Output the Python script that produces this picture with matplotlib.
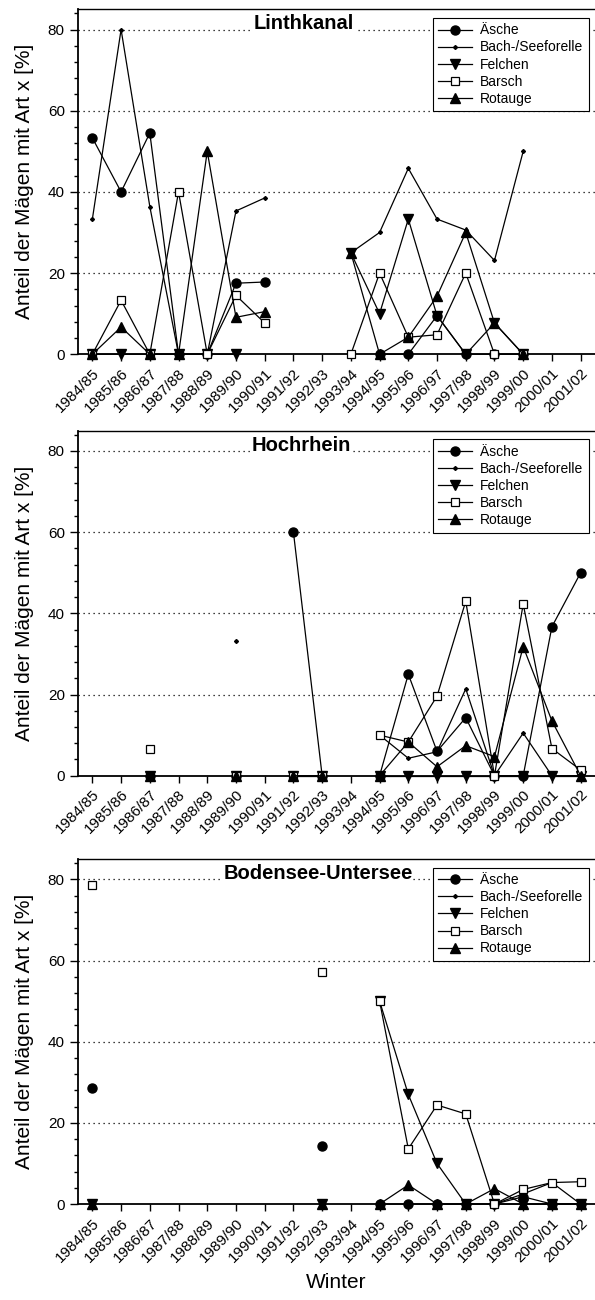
import numpy as np
import matplotlib

matplotlib.use("Agg")
import matplotlib.pyplot as plt  # noqa: E402
from matplotlib.ticker import MultipleLocator  # noqa: E402

plt.rcParams["font.family"] = ["Liberation Sans", "DejaVu Sans"]

n = np.nan
winter = ["1984/85", "1985/86", "1986/87", "1987/88", "1988/89", "1989/90",
          "1990/91", "1991/92", "1992/93", "1993/94", "1994/95", "1995/96",
          "1996/97", "1997/98", "1998/99", "1999/00", "2000/01", "2001/02"]
arten = ["Äsche", "Bach-/Seeforelle", "Felchen", "Barsch", "Rotauge"]

# Linthkanal
linth_aesche = [53.3, 40.0, 54.5, 0, 0, 17.5, 17.8, n, n, n, 0, 0, 9.5, 0, 0, 0, n, n]
linth_bach = [33.3, 80.0, 36.4, 0, 0, 35.3, 38.5, n, n, 25.0, 30.0, 45.8, 33.3, 30.6, 23.1, 50.0, n, n]
linth_felchen = [0, 0, 0, 0, 0, 0, n, n, n, 25.0, 10.0, 33.3, 9.5, 0, 7.7, 0, n, n]
linth_barsch = [0, 13.3, 0, 40.0, 0, 14.5, 7.7, n, n, 0, 20.0, 4.2, 4.8, 20.0, 0, 0, n, n]
linth_rotauge = [0, 6.7, 0, 0, 50.0, 9.1, 10.5, n, n, 25.0, 0, 4.2, 14.3, 30.0, 7.7, 0, n, n]

# Hochrhein
hoch_aesche = [n, n, 0, n, n, 0, n, 60.0, 0, n, 0, 25.0, 6.0, 14.3, 0, 0, 36.7, 50.0]
hoch_bach = [n, n, 0, n, n, 33.3, n, 0, 0, n, 10.0, 4.3, 5.9, 21.4, 0, 10.5, 0, 0]
hoch_felchen = [n, n, 0, n, n, 0, n, 0, 0, n, 0, 0, 0, 0, 0, 0, 0, 0]
hoch_barsch = [n, n, 6.7, n, n, 0, n, 0, 0, n, 10.0, 8.3, 19.6, 43.0, 0, 42.3, 6.7, 1.4]
hoch_rotauge = [n, n, 0, n, n, 0, n, 0, 0, n, 0, 8.3, 2.2, 7.4, 4.7, 31.8, 13.5, 0]

# Bodensee-Untersee
boden_aesche = [28.6, n, n, n, n, n, n, n, 14.3, n, 0, 0, 0, 0, 0, 1.8, 0, 0]
boden_bach = [0, n, n, n, n, n, n, n, 0, n, n, n, n, n, 0, 2.5, 5.3, 0]
boden_felchen = [0, n, n, n, n, n, n, n, 0, n, 50.0, 27.0, 10.0, 0, 0, 0, 0, 0]
boden_barsch = [78.6, n, n, n, n, n, n, n, 57.1, n, 50.0, 13.6, 24.4, 22.2, 0, 3.6, 5.3, 5.5]
boden_rotauge = [0, n, n, n, n, n, n, n, 0, n, 0, 4.7, 0, 0, 3.8, 0, 0, 0]

gewaesser = [
    ("Linthkanal", [linth_aesche, linth_bach, linth_felchen, linth_barsch, linth_rotauge], 0.437),
    ("Hochrhein", [hoch_aesche, hoch_bach, hoch_felchen, hoch_barsch, hoch_rotauge], 0.432),
    ("Bodensee-Untersee", [boden_aesche, boden_bach, boden_felchen, boden_barsch, boden_rotauge], 0.464),
]

stile = [
    dict(marker="o", ms=6.5, mfc="black"),
    dict(marker="D", ms=2.0, mfc="black"),
    dict(marker="v", ms=7, mfc="black"),
    dict(marker="s", ms=6, mfc="white", mew=0.9),
    dict(marker="^", ms=7, mfc="black"),
]

fig = plt.figure(figsize=(5.95, 13.0), dpi=100)
unten = [0.7275, 0.4033, 0.0738]
x = np.arange(len(winter))

for (name, serien, tx), b in zip(gewaesser, unten):
    ax = fig.add_axes([0.1311, b, 0.8689, 0.2654])
    for werte, art, st in zip(serien, arten, stile):
        ax.plot(x, np.array(werte, dtype=float), color="black", lw=0.9, mec="black",
                label=art, clip_on=False, zorder=3, **st)
    ax.set_xlim(-0.5, len(winter) - 0.5)
    ax.set_ylim(0, 85)
    ax.yaxis.set_major_locator(MultipleLocator(20))
    ax.yaxis.set_minor_locator(MultipleLocator(4))
    ax.set_yticks([0, 20, 40, 60, 80])
    ax.set_xticks(x)
    ax.set_xticklabels(winter, rotation=45, ha="right", rotation_mode="anchor", fontsize=11)
    ax.tick_params(axis="y", which="major", length=6, width=1, labelsize=11, direction="out")
    ax.tick_params(axis="y", which="minor", length=3, width=1, direction="out")
    ax.tick_params(axis="x", length=5, width=1, direction="out")
    for yy in [20, 40, 60, 80]:
        ax.axhline(yy, color="black", lw=0.9, ls=(0, (1, 3)), zorder=1)
    for s in ["left", "bottom"]:
        ax.spines[s].set_linewidth(1.3)
    ax.spines["top"].set_linewidth(1.0)
    ax.spines["right"].set_visible(False)
    ax.set_ylabel("Anteil der Mägen mit Art x [%]", fontsize=15, labelpad=10)
    ax.text(tx, 0.958, name, transform=ax.transAxes, ha="center", va="center",
            fontsize=14.5, fontweight="bold", zorder=2,
            bbox=dict(facecolor="white", edgecolor="none", pad=0.5))
    leg = ax.legend(loc="upper right", bbox_to_anchor=(0.988, 0.975), borderaxespad=0,
                    fontsize=10, fancybox=False, framealpha=1, edgecolor="black",
                    handlelength=2.4, handletextpad=0.6, labelspacing=0.22, borderpad=0.4)
    leg.get_frame().set_linewidth(0.8)
    leg.set_zorder(5)

ax.set_xlabel("Winter", fontsize=15, labelpad=6)

fig.savefig("out.png", dpi=100)
